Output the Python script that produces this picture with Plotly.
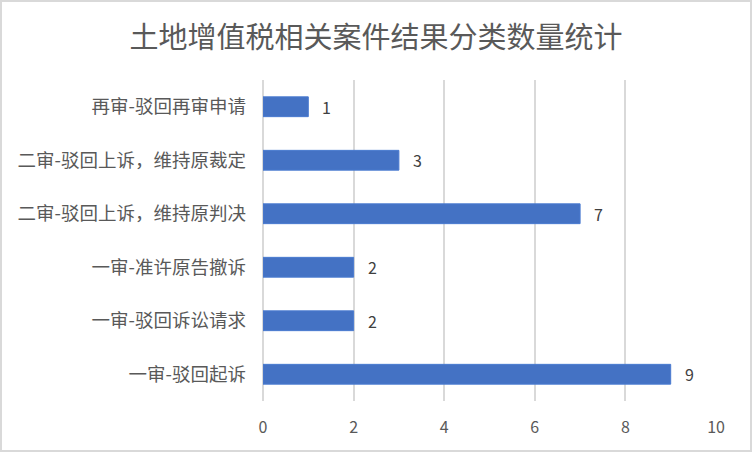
import plotly.graph_objects as go

categories = [
    '一审-驳回起诉',
    '一审-驳回诉讼请求',
    '一审-准许原告撤诉',
    '二审-驳回上诉，维持原判决',
    '二审-驳回上诉，维持原裁定',
    '再审-驳回再审申请',
]
counts = [9, 2, 2, 7, 3, 1]
x_ticks = [0, 2, 4, 6, 8, 10]

W, H = 752, 452
ML, MR, MT, MB = 263, 36, 80, 51
pw, ph = W - ML - MR, H - MT - MB

fig = go.Figure()
fig.add_trace(go.Bar(
    y=categories, x=counts, orientation='h',
    marker=dict(color='#4472C4', line=dict(color='#4A7BD0', width=1)),
    width=0.37,
    cliponaxis=False,
))

# value labels to the right of each bar
for cat, val in zip(categories, counts):
    fig.add_annotation(x=val, y=cat, text=str(val), showarrow=False,
                       xanchor='left', xshift=12,
                       font=dict(size=16, color='#404040'))

fig.update_layout(
    width=W, height=H,
    margin=dict(l=ML, r=MR, t=MT, b=MB, autoexpand=False),
    paper_bgcolor='white', plot_bgcolor='white',
    font=dict(family='Noto Sans CJK SC', color='#595959'),
    title=dict(text='土地增值税相关案件结果分类数量统计', x=0.5, xanchor='center',
               y=1 - 38 / H, yanchor='middle',
               font=dict(size=29, color='#595959', family='Noto Sans CJK SC')),
    showlegend=False,
)
fig.update_xaxes(range=[0, 10], tickvals=x_ticks, showgrid=True, gridcolor='#D9D9D9',
                 gridwidth=1.5, zeroline=True, zerolinecolor='#D9D9D9', zerolinewidth=1.5,
                 tickfont=dict(size=16, color='#595959'),
                 ticks='', ticklabelstandoff=15, automargin=False)
fig.update_yaxes(categoryorder='array', categoryarray=categories, showgrid=False,
                 tickfont=dict(size=18.5, color='#595959'), ticks='', ticklabelstandoff=16,
                 automargin=False)

# outer border of the chart area
fig.add_shape(type='rect', xref='paper', yref='paper',
              x0=(1 - ML) / pw, x1=(W - 1 - ML) / pw,
              y0=-(MB - 1) / ph, y1=1 + (MT - 1) / ph,
              line=dict(color='#D9D9D9', width=2), layer='below')

fig.write_html("out.html", config={'displayModeBar': False},
               post_script="document.body.style.margin='0';")
